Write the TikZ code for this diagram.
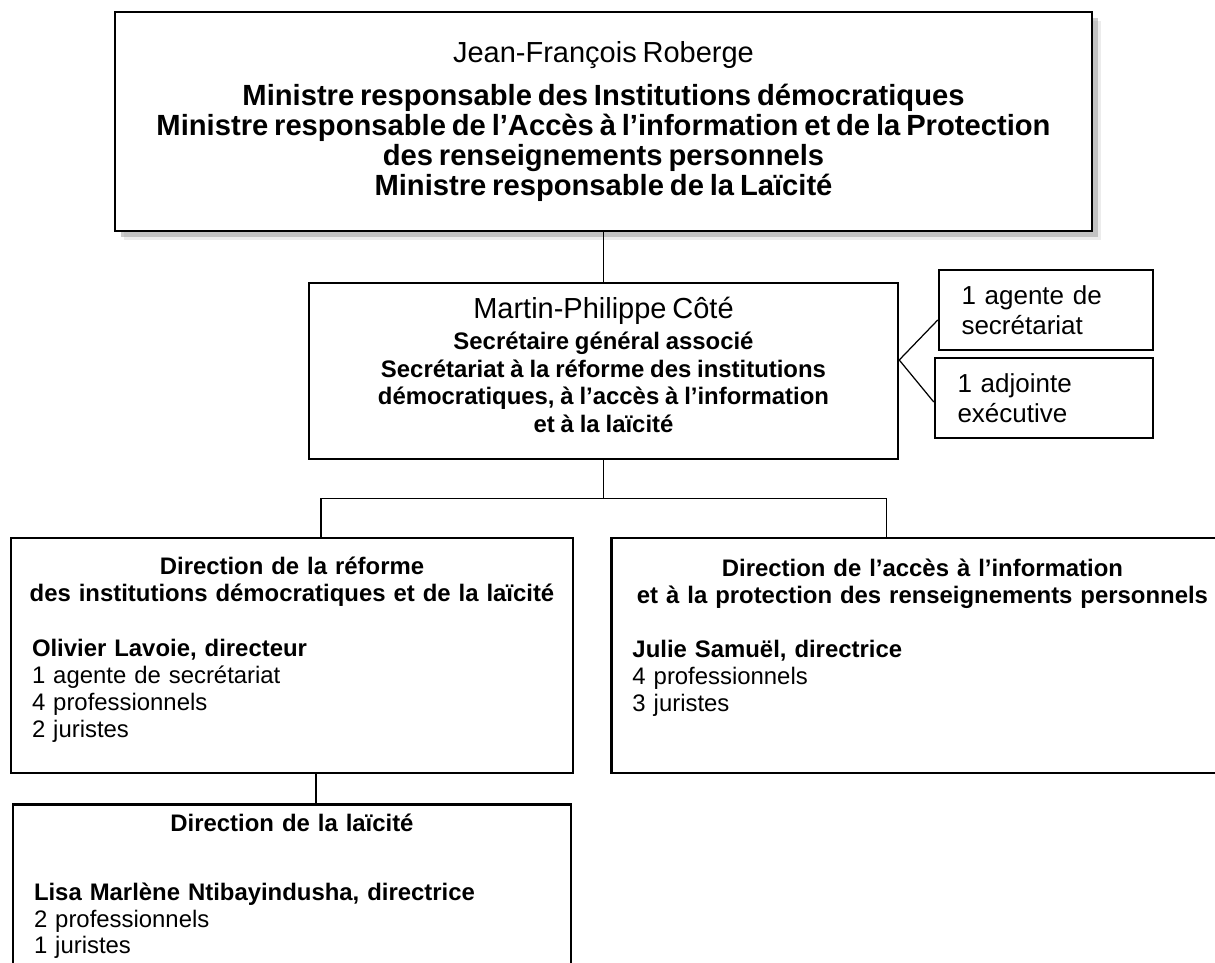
\documentclass[tikz,border=0pt]{standalone}
\usepackage{fontspec}
\setmainfont{Liberation Sans}
\usepackage{tikz}
\usetikzlibrary{calc}
\usetikzlibrary{shadows}
\usetikzlibrary{positioning}

\newcommand{\namefont}{\fontsize{16.5pt}{17pt}\selectfont}
\newcommand{\titlefont}{\fontsize{16.6pt}{17pt}\selectfont\bfseries}
\newcommand{\sgfont}{\fontsize{13.6pt}{15.6pt}\selectfont\bfseries}
\newcommand{\bodyfont}{\fontsize{13.6pt}{15.3pt}\selectfont}
\newcommand{\stafffont}{\fontsize{14.8pt}{17pt}\selectfont}
\newcommand{\padbelow}[1]{\rule[-#1]{0pt}{#1}}

\begin{document}
\begin{tikzpicture}[
  box/.style={draw, line width=1.4pt, fill=white, inner sep=0pt},
  link/.style={draw, line width=0.7pt},
  staffbox/.style={box, align=left, inner xsep=0.45cm, minimum height=1.6cm, font=\stafffont},
  dirbox/.style={box, align=left, inner xsep=0.42cm, font=\bodyfont},
]
\useasboundingbox (0,0) rectangle (24.3,-19.26);
\clip (0,0) rectangle (24.3,-19.26);

% ministre
\node[box, drop shadow={shadow xshift=5pt, shadow yshift=-5pt, fill=black!15},
  drop shadow={shadow xshift=3.5pt, shadow yshift=-3.5pt, fill=black!40},
  text width=19.54cm, minimum height=4.38cm, align=center] (minister) at (12.07,-2.43)
  {\namefont Jean-François Roberge\\[7.4pt]
   \titlefont Ministre responsable des Institutions démocratiques\\
   Ministre responsable de l’Accès à l’information et de la Protection\\
   des renseignements personnels\\
   Ministre responsable de la Laïcité\par};

% secretaire general associe
\node[box, text width=11.78cm, minimum height=3.52cm, align=center] (sga) at (12.07,-7.42)
  {\namefont Martin-Philippe Côté\\[2pt]
   \sgfont Secrétaire général associé\\
   Secrétariat à la réforme des institutions\\
   démocratiques, à l’accès à l’information\\
   et à la laïcité\padbelow{7pt}\par};

\node[staffbox, text width=3.38cm] (agent) at (20.92,-6.2) {1 agente de\\secrétariat};
\node[staffbox, text width=3.46cm] (adjointe) at (20.88,-7.96) {1 adjointe\\exécutive};

% directions
\node[dirbox, text width=10.4cm, minimum height=4.7cm] (ldir) at (5.84,-13.11)
  {\centerline{\bfseries Direction de la réforme}
   \centerline{\bfseries des institutions démocratiques et de la laïcité}\par
   \vspace{15.8pt}
   {\bfseries Olivier Lavoie, directeur}\\
   1 agente de secrétariat\\
   4 professionnels\\
   2 juristes\padbelow{9.5pt}\par};

\node[dirbox, text width=11.6cm, minimum height=4.7cm, right=0.72cm of ldir] (rdir)
  {\centerline{\bfseries Direction de l’accès à l’information}
   \centerline{\bfseries et à la protection des renseignements personnels}\par
   \vspace{15.8pt}
   {\bfseries Julie Samuël, directrice}\\
   4 professionnels\\
   3 juristes\padbelow{23pt}\par};

\node[dirbox, text width=10.32cm, inner ysep=0.2cm, below=0.58cm of ldir] (laicite)
  {\centerline{\bfseries Direction de la laïcité}\par
   \vspace{23.5pt}
   {\bfseries Lisa Marlène Ntibayindusha, directrice}\\
   2 professionnels\\
   1 juristes\padbelow{30pt}\par};

% liens
\draw[link] (minister.south) -- (sga.north);
\draw[link] ([yshift=0.22cm]sga.east) -- ([yshift=-0.2cm]agent.west);
\draw[link] ([yshift=0.22cm]sga.east) -- ([yshift=-0.08cm]adjointe.west);
\draw[link] (sga.south) -- ++(0,-0.76) coordinate (bus);
\draw[link] ([xshift=0.58cm]ldir.north) |- (bus) -| ([xshift=-0.72cm]rdir.north);
\draw[link] ([xshift=0.48cm]ldir.south) -- ([xshift=0.48cm]ldir.south |- laicite.north);
\end{tikzpicture}
\end{document}
